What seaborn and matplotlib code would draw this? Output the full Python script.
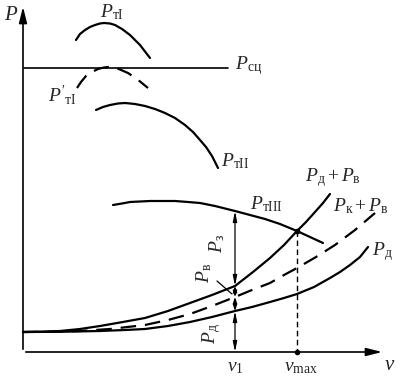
import matplotlib
matplotlib.use("Agg")
import matplotlib.pyplot as plt
import seaborn as sns
import numpy as np

sns.set_theme(style="white")
plt.rcParams["font.family"] = ["Liberation Serif", "DejaVu Serif"]
plt.rcParams["mathtext.fontset"] = "custom"
plt.rcParams["mathtext.rm"] = "Liberation Serif"
plt.rcParams["mathtext.it"] = "Liberation Serif:italic"

# ---- curve data (diagram units: x = speed position, y = force position, y grows downward) ----
pt1_x = [76, 80, 85, 90, 95, 100, 104, 110, 115, 122, 130, 140, 150]
pt1_y = [40, 34, 30, 27, 25, 23.5, 23, 23.5, 25, 29, 35, 45, 58]

pt1p_x = [77, 81, 86, 92, 98, 104, 108, 114, 120, 128, 137, 148]
pt1p_y = [88, 82, 76, 72, 69, 67.5, 67, 67.5, 69.5, 73, 79, 88]

psc_x = [24, 228]
psc_y = [68, 68]

pt2_x = [96, 103, 110, 118, 125, 135, 145, 155, 165, 175, 185, 193, 200, 206, 212, 218]
pt2_y = [110, 107, 105, 103.5, 103, 104, 106, 109, 113, 118, 125, 132, 140, 147, 156, 168]

pt3_x = [113, 122, 130, 140, 150, 162, 175, 188, 200, 215, 235, 250, 265, 280, 297, 310, 323]
pt3_y = [205, 203.5, 202, 201.5, 201, 201, 201, 202, 203, 206, 211, 215, 219, 224, 231, 237, 243]

pdpv_x = [23, 40, 60, 80, 100, 120, 145, 168, 190, 212, 235, 253, 270, 284, 297, 306, 315, 323, 330]
pdpv_y = [332, 331.7, 331, 329, 326, 322.5, 318, 311, 303, 295, 286, 272, 258, 245, 231, 222, 212, 203, 194]

pkpv_x = [23, 50, 80, 110, 145, 168, 190, 212, 235, 252, 270, 284, 297, 316, 335, 355, 375]
pkpv_y = [332, 331.8, 331, 329, 325, 320, 314, 306, 297, 290, 283, 275, 268, 257, 245, 230, 213]

pd_x = [23, 60, 100, 125, 145, 168, 190, 212, 235, 252, 270, 284, 297, 314, 330, 340, 350, 360, 368]
pd_y = [332, 331.8, 331, 330, 329, 326, 322, 317, 311, 307, 302, 298, 294, 287, 278, 272, 265, 257, 247]

v1 = 235
vmax = 297
y_axis = 352
x_axis0 = 23

labels = {
    "pt1": (r"$P_{\mathrm{тI}}$", 100, 12),
    "pt1p": (r"$P'_{\mathrm{тI}}$", 48, 95),
    "psc": (r"$P_{\mathrm{сц}}$", 235, 66),
    "pt2": (r"$P_{\mathrm{тII}}$", 221, 161),
    "pt3": (r"$P_{\mathrm{тIII}}$", 250, 204),
    "pdpv": (r"$P_{\mathrm{д}}+P_{\mathrm{в}}$", 305, 178),
    "pkpv": (r"$P_{\mathrm{к}}+P_{\mathrm{в}}$", 333, 206),
    "pd": (r"$P_{\mathrm{д}}$", 372, 252),
}

fig = plt.figure(figsize=(4.0, 3.79), dpi=100)
ax = fig.add_axes([0, 0, 1, 1])
ax.set_xlim(0, 400)
ax.set_ylim(379, 0)
ax.axis("off")

lw = 1.6
solid = dict(color="black", linewidth=lw, sort=False, estimator=None, ax=ax, legend=False)

sns.lineplot(x=pt1_x, y=pt1_y, **solid)
l = sns.lineplot(x=pt1p_x, y=pt1p_y, **solid)
l.lines[-1].set_dashes([7, 4])
sns.lineplot(x=psc_x, y=psc_y, color="black", linewidth=1.2, sort=False, estimator=None, ax=ax)
sns.lineplot(x=pt2_x, y=pt2_y, **solid)
sns.lineplot(x=pt3_x, y=pt3_y, **solid)
sns.lineplot(x=pdpv_x, y=pdpv_y, **solid)
l = sns.lineplot(x=pkpv_x, y=pkpv_y, **solid)
l.lines[-1].set_dashes([7, 4])
sns.lineplot(x=pd_x, y=pd_y, **solid)

# axes arrows
ax.annotate("", xy=(x_axis0, 4), xytext=(x_axis0, y_axis),
            arrowprops=dict(arrowstyle="-|>,head_length=0.8,head_width=0.2", color="black", lw=1.2))
ax.annotate("", xy=(385, y_axis), xytext=(x_axis0, y_axis),
            arrowprops=dict(arrowstyle="-|>,head_length=0.8,head_width=0.2", color="black", lw=1.2))

# vmax dashed guide
ax.plot([vmax, vmax], [231, y_axis], color="black", lw=1.0, dashes=[4, 2.5])
ax.plot([vmax, vmax], [231, y_axis], "o", color="black", ms=3)

# dimension arrows at v1
segs = [(211, 286, 0.5), (286, 297, 0.3), (297, 311, 0.3), (311, y_axis, 0.5)]
for a, b, hl in segs:
    ax.annotate("", xy=(v1, a), xytext=(v1, b),
                arrowprops=dict(arrowstyle=f"<|-|>,head_length={hl},head_width=0.1",
                                color="black", lw=0.9, shrinkA=0, shrinkB=0))
ax.plot([217, 232], [281, 294], color="black", lw=0.9)

fs = 14
ax.text(217, 244, r"$P_{\mathrm{з}}$", rotation=90, ha="center", va="center", fontsize=fs)
ax.text(204, 273, r"$P_{\mathrm{в}}$", rotation=90, ha="center", va="center", fontsize=fs)
ax.text(212, 334, r"$P_{\mathrm{д}}$", rotation=90, ha="center", va="center", fontsize=fs)

for key, (txt, x, y) in labels.items():
    ax.text(x, y, txt, ha="left", va="center", fontsize=fs)

ax.text(4, 15, r"$P$", ha="left", va="center", fontsize=fs + 1)
ax.text(390, 365, r"$v$", ha="center", va="center", fontsize=fs + 1)
ax.text(v1, 367, r"$v_1$", ha="center", va="center", fontsize=fs)
ax.text(vmax + 4, 367, r"$v_{\mathrm{max}}$", ha="center", va="center", fontsize=fs)

fig.savefig("out.png", dpi=100)
